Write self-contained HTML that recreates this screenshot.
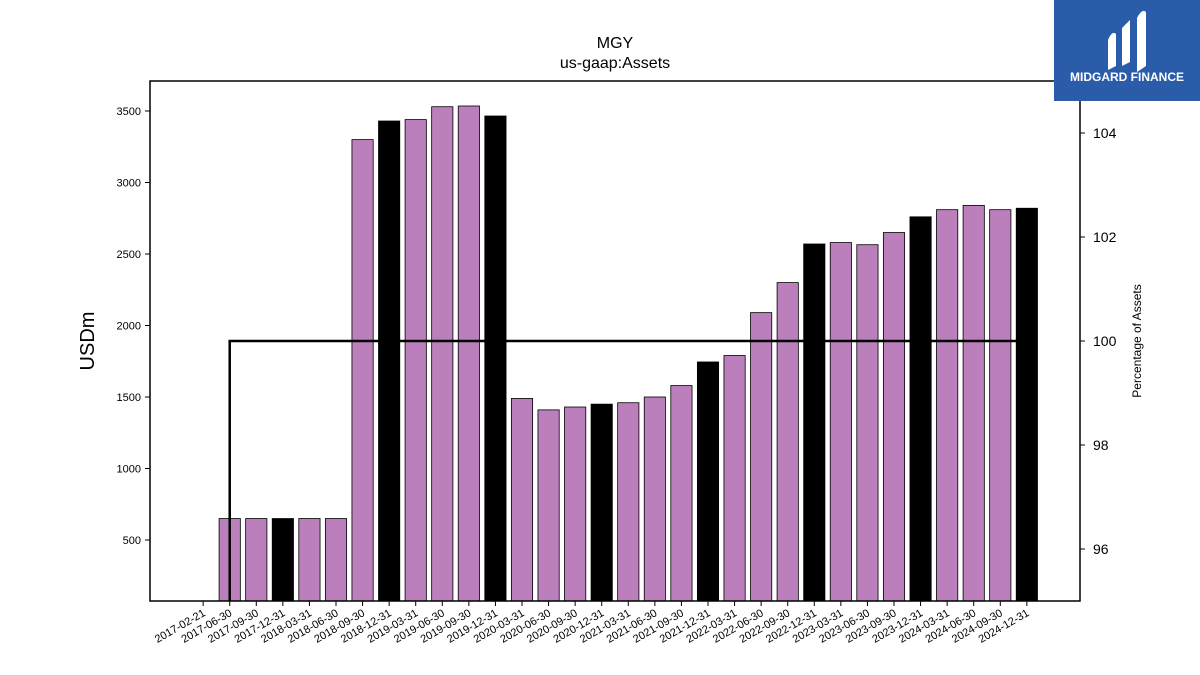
<!DOCTYPE html>
<html><head><meta charset="utf-8"><style>
body{margin:0;background:#fff;font-family:"Liberation Sans","DejaVu Sans",sans-serif;}
svg{display:block}
</style></head><body>
<svg width="1200" height="675" id="c">
<text x="615" y="48" text-anchor="middle" font-size="16">MGY</text>
<text x="615" y="68" text-anchor="middle" font-size="16">us-gaap:Assets</text>
<text transform="translate(94,341) rotate(-90)" text-anchor="middle" font-size="20">USDm</text>
<text transform="translate(1141,341) rotate(-90)" text-anchor="middle" font-size="12">Percentage of Assets</text>
<g id="bars"></g><g id="line"></g><g id="axes"></g>
<rect x="150" y="81" width="930" height="520" fill="none" stroke="#000" stroke-width="1.5"/>
<g>
<rect x="1054" y="0" width="146" height="101" fill="#2a5caa"/>
<path d="M1108 70 L1108 40 Q1112 30 1116 34 L1116 66 Z M1122 66 L1122 28 L1130 20 L1130 62 Z M1137 72 L1137 18 Q1142 8 1146 12 L1146 66 Z" fill="#fff"/>
<text x="1127" y="81" text-anchor="middle" font-size="12" font-weight="bold" fill="#fff">MIDGARD FINANCE</text>
</g>
</svg>
<script>
const categories=["2017-02-21","2017-06-30","2017-09-30","2017-12-31","2018-03-31","2018-06-30","2018-09-30","2018-12-31","2019-03-31","2019-06-30","2019-09-30","2019-12-31","2020-03-31","2020-06-30","2020-09-30","2020-12-31","2021-03-31","2021-06-30","2021-09-30","2021-12-31","2022-03-31","2022-06-30","2022-09-30","2022-12-31","2023-03-31","2023-06-30","2023-09-30","2023-12-31","2024-03-31","2024-06-30","2024-09-30","2024-12-31"];
const assets=[null,650,650,650,650,650,3300,3430,3440,3530,3535,3465,1490,1410,1430,1450,1460,1500,1580,1745,1790,2090,2300,2570,2580,2565,2650,2760,2810,2840,2810,2820];
const pct=[null,100,100,100,100,100,100,100,100,100,100,100,100,100,100,100,100,100,100,100,100,100,100,100,100,100,100,100,100,100,100,100];
const leftTicks=[500,1000,1500,2000,2500,3000,3500];
const rightTicks=[96,98,100,102,104];
const NS="http://www.w3.org/2000/svg";
const L=150,R=1080,T=81,B=601;
const x=i=>L+(i+2)*(R-L)/35;
const y=v=>611.5-(v/500)*71.5;
const y2=v=>341-(v-100)*52;
function mk(t,a,p){const e=document.createElementNS(NS,t);for(const k in a)e.setAttribute(k,a[k]);p.appendChild(e);return e;}
const bars=document.getElementById('bars'),ax=document.getElementById('axes'),ln=document.getElementById('line');
const bw=(R-L)/35*0.8;
assets.forEach((v,i)=>{if(v==null)return;
 const dec=categories[i].endsWith("12-31");
 const r=mk('rect',{x:x(i)-bw/2,y:y(v),width:bw,height:B-y(v),fill:dec?'#000':'#bb7fbb',stroke:'#000','stroke-width':0.8},bars);
 
 
});
let d="",first=true;
pct.forEach((v,i)=>{if(v==null)return;if(first){d+="M"+x(i)+" "+B+" L"+x(i)+" "+y2(v);first=false;}else d+=" L"+x(i)+" "+y2(v);});
const p=mk('path',{d:d,fill:'none',stroke:'#000','stroke-width':2.5},ln);


leftTicks.forEach(v=>{mk('line',{x1:L-5,x2:L,y1:y(v),y2:y(v),stroke:'#000'},ax);
 const t=mk('text',{x:L-9,y:y(v)+4,'text-anchor':'end','font-size':11},ax);t.textContent=v;
 
 });
rightTicks.forEach(v=>{mk('line',{x1:R,x2:R+5,y1:y2(v),y2:y2(v),stroke:'#000'},ax);
 const t=mk('text',{x:R+13,y:y2(v)+5,'font-size':14},ax);t.textContent=v;
 
 });
categories.forEach((c,i)=>{mk('line',{x1:x(i),x2:x(i),y1:B,y2:B+5,stroke:'#000'},ax);
 const t=mk('text',{x:x(i)+3,y:B+14,'text-anchor':'end','font-size':11,transform:`rotate(-30 ${x(i)+3} ${B+14})`},ax);t.textContent=c;
 
 });
</script>
</body></html>
